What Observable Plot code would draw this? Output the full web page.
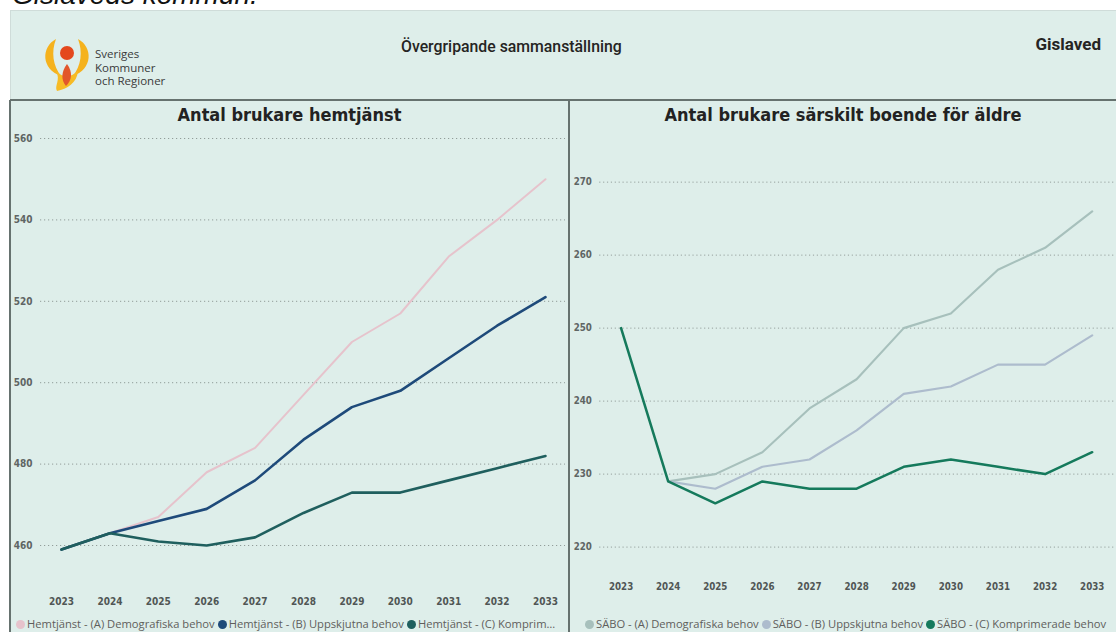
<!DOCTYPE html>
<html><head><meta charset="utf-8">
<script src="https://cdn.jsdelivr.net/npm/d3@7"></script>
<script src="https://cdn.jsdelivr.net/npm/@observablehq/plot@0.6"></script>
<style>
html,body{margin:0;padding:0;width:1116px;height:632px;overflow:hidden;background:#fff;position:relative;}
.abs{position:absolute;}
#topnote{left:12px;top:-19px;font:italic 28px "Liberation Sans",Arial,sans-serif;color:#111;line-height:28px;white-space:nowrap;}
#dash{left:10px;top:10px;width:1106px;height:622px;background:#deeeea;border-top:1px solid #cfdcd9;border-left:1px solid #cfdcd9;box-sizing:border-box;}
#hline{left:10px;top:99px;width:1106px;height:2px;background:#66726f;}
#vline{left:568px;top:100px;width:2px;height:532px;background:#66726f;}
#lline{left:9px;top:100px;width:2px;height:532px;background:#66726f;}
.skr{left:95px;font:11.5px "Open Sans",sans-serif;line-height:13px;height:13px;color:#3a3a3a;white-space:nowrap;}
#htitle{left:401px;top:36px;font:500 17px Roboto,sans-serif;color:#252423;white-space:nowrap;transform:scaleX(0.93);transform-origin:0 0;}
#hcity{left:1000px;width:101px;text-align:right;top:34px;font:700 17px Roboto,sans-serif;color:#252423;}
.ctitle{top:104px;text-align:center;font:bold 18px "DejaVu Sans Condensed",sans-serif;color:#222;white-space:nowrap;}
.legend{top:615px;height:18px;font:11.2px "Open Sans",sans-serif;color:#605e5c;white-space:nowrap;overflow:hidden;text-overflow:ellipsis;line-height:18px;}
.legend .dot{display:inline-block;width:9px;height:9px;border-radius:50%;margin-right:2px;vertical-align:-0.5px;}
.legend .item{margin-right:3px;}
svg.chart text{font-weight:bold;}
</style></head><body>
<div id="topnote" class="abs">Gislaveds kommun.</div>
<div id="dash" class="abs"></div>
<svg class="abs" style="left:0;top:0" width="100" height="100">
  <path d="M56,39 C41,47 41,69 61,76 C53,66 51,52 56,39 Z" fill="#f5b21d"/>
  <path d="M78,39 C93,47 93,69 73,76 C81,66 83,52 78,39 Z" fill="#f5b21d"/>
  <path d="M56,71 C61,80 54,86 57,91 C67,89 77,83 78,71 C70,78 63,78 56,71 Z" fill="#f7bb25"/>
  <path d="M67,64 C61,72 61,80 66,86 C72,80 73,72 67,64 Z" fill="#e2562a"/>
  <circle cx="67" cy="53" r="7" fill="#e4481d"/>
</svg>
<div class="abs skr" style="top:47px;">Sveriges</div>
<div class="abs skr" style="top:60.5px;">Kommuner</div>
<div class="abs skr" style="top:74px;">och Regioner</div>
<div id="htitle" class="abs">Övergripande sammanställning</div>
<div id="hcity" class="abs">Gislaved</div>
<div id="hline" class="abs"></div>
<div id="vline" class="abs"></div>
<div id="lline" class="abs"></div>
<div class="abs ctitle" style="left:11px;width:557px;">Antal brukare hemtjänst</div>
<div class="abs ctitle" style="left:570px;width:546px;">Antal brukare särskilt boende för äldre</div>
<div id="left" class="abs" style="left:12px;top:102px;"></div>
<div id="right" class="abs" style="left:572px;top:102px;"></div>
<div id="legL" class="abs legend" style="left:16px;width:544px;"></div>
<div id="legR" class="abs legend" style="left:585px;width:531px;"></div>
<script>
const years = [2023, 2024, 2025, 2026, 2027, 2028, 2029, 2030, 2031, 2032, 2033];
const hemNames = ["Hemtjänst - (A) Demografiska behov", "Hemtjänst - (B) Uppskjutna behov", "Hemtjänst - (C) Komprimerade behov"];
const hemA = [459, 463, 467, 478, 484, 497, 510, 517, 531, 540, 550];
const hemB = [459, 463, 466, 469, 476, 486, 494, 498, 506, 514, 521];
const hemC = [459, 463, 461, 460, 462, 468, 473, 473, 476, 479, 482];
const hemColors = ["#e6c3cc", "#1e4a7a", "#1f5f5e"];
const hemTicks = [460, 480, 500, 520, 540, 560];

const saboNames = ["SÄBO - (A) Demografiska behov", "SÄBO - (B) Uppskjutna behov", "SÄBO - (C) Komprimerade behov"];
const saboA = [null, 229, 230, 233, 239, 243, 250, 252, 258, 261, 266];
const saboB = [null, 229, 228, 231, 232, 236, 241, 242, 245, 245, 249];
const saboC = [250, 229, 226, 229, 228, 228, 231, 232, 231, 230, 233];
const saboColors = ["#a7c0bc", "#adbccd", "#157a5c"];
const saboTicks = [220, 230, 240, 250, 260, 270];

function longData(names, series) {
  const out = [];
  series.forEach((vals, s) => vals.forEach((v, i) => { if (v != null) out.push({series: names[s], year: years[i], value: v}); }));
  return out;
}

function chart(names, series, colors, ticks, opts) {
  const data = longData(names, series);
  const widths = opts.widths;
  return Plot.plot({
    width: opts.width, height: 520,
    marginLeft: 28, marginRight: opts.marginRight, marginTop: opts.marginTop, marginBottom: 28,
    style: {background: "transparent", fontFamily: "'DejaVu Sans Condensed', sans-serif", fontSize: "10px", color: "#5f6564", overflow: "visible"},
    x: {domain: [years[0], years[years.length - 1]], insetLeft: opts.insetLeft, insetRight: opts.insetRight},
    y: {domain: [ticks[0], ticks[ticks.length - 1]], insetBottom: opts.insetBottom},
    color: {domain: names, range: colors},
    marks: [
      Plot.gridY(ticks, {stroke: "#8a9391", strokeOpacity: 0.9, strokeDasharray: "1.2,2.8", strokeWidth: 1}),
      Plot.axisY(ticks, {tickSize: 0, tickPadding: 8, label: null, fill: "#5f6564"}),
      Plot.axisX(years, {tickSize: 0, tickPadding: 3, label: null, tickFormat: d => String(d), fill: "#505655"}),
      ...names.map((n, i) => Plot.line(data.filter(d => d.series === n), {x: "year", y: "value", stroke: colors[i], strokeWidth: widths[i]}))
    ]
  });
}

const L = chart(hemNames, [hemA, hemB, hemC], hemColors, hemTicks, {width: 556, marginRight: 3, marginTop: 36, insetLeft: 21, insetRight: 20, insetBottom: 49, widths: [2, 2.6, 2.6]});
L.classList.add("chart");
document.getElementById("left").append(L);

const R = chart(saboNames, [saboA, saboB, saboC], saboColors, saboTicks, {width: 560, marginRight: 0, marginTop: 82, insetLeft: 22, insetRight: 25, insetBottom: 34.3, widths: [2.2, 2.2, 2.6]});
R.classList.add("chart");
document.getElementById("right").append(R);

function legend(el, names, colors) {
  el.innerHTML = names.map((n, i) => `<span class="item"><span class="dot" style="background:${colors[i]}"></span>${n}</span>`).join("");
}
legend(document.getElementById("legL"), hemNames, hemColors);
legend(document.getElementById("legR"), saboNames, saboColors);
</script>
</body></html>
